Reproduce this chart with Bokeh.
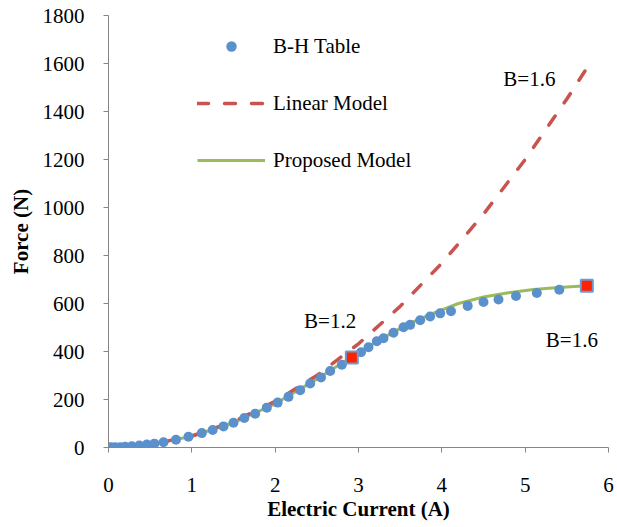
from bokeh.plotting import figure
from bokeh.models import Legend, LegendItem, Label, FixedTicker
from bokeh.embed import file_html
from bokeh.resources import INLINE

# B-H table points (current A, force N)
bh_current = [0.0, 0.03, 0.08, 0.14, 0.20, 0.28, 0.37, 0.46, 0.55, 0.66, 0.81, 0.96,
              1.12, 1.25, 1.38, 1.50, 1.63, 1.76, 1.90, 2.03, 2.16, 2.30, 2.42, 2.55,
              2.66, 2.80, 2.92, 3.03, 3.12, 3.22, 3.30, 3.42, 3.54, 3.62, 3.74, 3.86,
              3.98, 4.11, 4.31, 4.50, 4.68, 4.89, 5.14, 5.41, 5.74]
bh_force = [0, 1, 1, 1, 3, 5, 8, 12, 16, 22, 32, 45,
            60, 73, 88, 103, 123, 141, 166, 187, 211, 239, 267, 292,
            319, 345, 375, 397, 418, 443, 455, 478, 501, 511, 530, 546,
            559, 568, 590, 606, 617, 631, 644, 657, 674]

# Linear model (dashed)
linear_current = [0.0, 0.5, 1.0, 1.5, 2.0, 2.5, 3.0, 3.5, 4.0, 4.5, 5.0, 5.5, 5.72]
linear_force = [0, 12, 48, 108, 192, 300, 432, 588, 768, 972, 1200, 1452, 1570]

# Proposed model (solid green)
proposed_current = [0.0, 0.5, 1.0, 1.5, 2.0, 2.5, 3.0, 3.3, 3.6, 3.9, 4.2, 4.5, 4.8,
                    5.1, 5.4, 5.74]
proposed_force = [0, 12, 47, 104, 182, 285, 395, 458, 515, 560, 600, 627, 645,
                  658, 667, 674]

# Highlighted points
marker_current = [2.92, 5.74]
marker_force = [375, 674]

x_ticks = [0, 1, 2, 3, 4, 5, 6]
y_ticks = [0, 200, 400, 600, 800, 1000, 1200, 1400, 1600, 1800]

FONT = "Liberation Serif"

p = figure(width=617, height=527, x_range=(0, 6), y_range=(0, 1800),
           output_backend="svg", toolbar_location=None,
           min_border_left=108, min_border_right=9,
           min_border_top=15, min_border_bottom=80)
p.xgrid.visible = False
p.ygrid.visible = False
p.outline_line_color = None

for ax in (p.xaxis[0], p.yaxis[0]):
    ax.axis_line_color = "#868686"
    ax.major_tick_line_color = "#868686"
    ax.minor_tick_line_color = None
    ax.major_tick_in = 0
    ax.major_tick_out = 5
    ax.major_label_text_font = FONT
    ax.major_label_text_font_size = "21px"
    ax.major_label_text_color = "#000000"
    ax.axis_label_text_font = FONT
    ax.axis_label_text_font_style = "bold"
    ax.axis_label_text_font_size = "21px"
    ax.axis_label_text_color = "#000000"

p.xaxis.ticker = FixedTicker(ticks=x_ticks)
p.yaxis.ticker = FixedTicker(ticks=y_ticks)
p.xaxis.axis_label = "Electric Current (A)"
p.yaxis.axis_label = "Force (N)"
p.xaxis.major_label_standoff = 25
p.yaxis.major_label_standoff = 19
p.xaxis.axis_label_standoff = 2
p.yaxis.axis_label_standoff = 7

r_prop = p.line(proposed_current, proposed_force, line_color="#9BBB59", line_width=3)
r_lin = p.line(linear_current, linear_force, line_color="#C9544F", line_width=3.5,
               line_dash="11 16", line_cap="round")
r_bh = p.scatter(bh_current, bh_force, size=10, fill_color="#5A90CC", line_color=None)
p.scatter(marker_current, marker_force, marker="square", size=12,
          fill_color="#FF2200", line_color="#6C9BD2", line_width=2)

for txt, x, y in [("B=1.2", 2.66, 529), ("B=1.6", 5.05, 1535), ("B=1.6", 5.56, 450)]:
    p.add_layout(Label(x=x, y=y, text=txt, text_font=FONT, text_font_size="21px",
                       text_align="center", text_baseline="middle", text_color="#000000"))

legend = Legend(items=[LegendItem(label="B-H Table", renderers=[r_bh]),
                       LegendItem(label="Linear Model", renderers=[r_lin]),
                       LegendItem(label="Proposed Model", renderers=[r_prop])],
                location=(89, 274), glyph_width=68, glyph_height=26, label_height=26,
                spacing=31, label_standoff=8, padding=0, margin=0,
                border_line_color=None, background_fill_alpha=0,
                label_text_font=FONT, label_text_font_size="21px",
                label_text_color="#000000")
p.add_layout(legend)

open("out.html", "w").write(file_html(p, INLINE))
